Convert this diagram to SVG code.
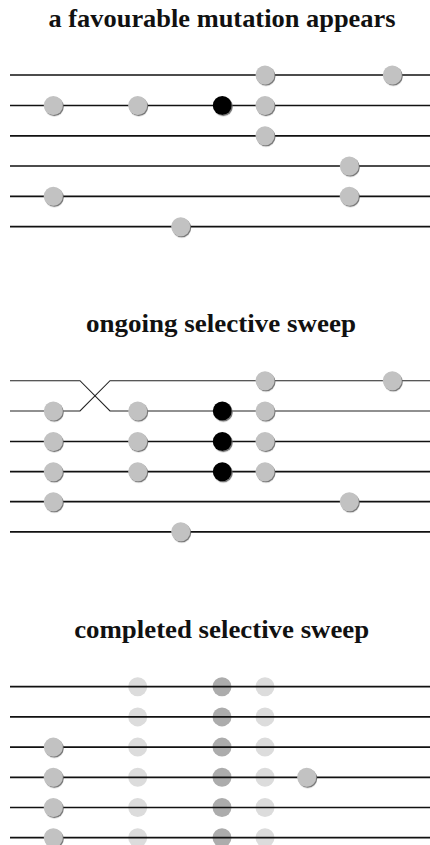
<svg xmlns="http://www.w3.org/2000/svg" width="430" height="845" viewBox="0 0 430 845">
<style>
.t{font-family:"Liberation Serif","Times New Roman",serif;font-weight:bold;font-size:26px;fill:#111;text-anchor:middle}
.ln{stroke:#111;stroke-width:1.7;fill:none}
.x{stroke:#222;stroke-width:1.1;fill:none}
.g{fill:#c2c2c2;filter:url(#sh)}
.b{fill:#000;filter:url(#sh)}
.fl{fill:#dcdcdc;filter:url(#bl)}
.fd{fill:#acacac;filter:url(#bl)}
</style>
<defs>
<filter id="sh" x="-30%" y="-30%" width="170%" height="170%">
<feDropShadow dx="1" dy="1.2" stdDeviation="0.6" flood-color="#6a6a6a" flood-opacity="0.9"/>
</filter>
<filter id="bl" x="-30%" y="-30%" width="160%" height="160%">
<feGaussianBlur stdDeviation="0.6"/>
</filter>
</defs>
<rect width="430" height="845" fill="#fff"/>
<g id="titles">
<text class="t" x="222" y="27" textLength="347" lengthAdjust="spacingAndGlyphs">a favourable mutation appears</text>
<text class="t" x="221" y="332" textLength="270" lengthAdjust="spacingAndGlyphs">ongoing selective sweep</text>
<text class="t" x="221.7" y="638" textLength="295" lengthAdjust="spacingAndGlyphs">completed selective sweep</text>
</g>
<g id="faded">
<g id="p3-faded-r1"><circle class="fl" cx="137.7" cy="686.7" r="9.5"/><circle class="fd" cx="222" cy="686.7" r="9.5"/><circle class="fl" cx="265" cy="686.7" r="9.5"/></g>
<g id="p3-faded-r2"><circle class="fl" cx="137.7" cy="716.9" r="9.5"/><circle class="fd" cx="222" cy="716.9" r="9.5"/><circle class="fl" cx="265" cy="716.9" r="9.5"/></g>
<g id="p3-faded-r3"><circle class="fl" cx="137.7" cy="747.1" r="9.5"/><circle class="fd" cx="222" cy="747.1" r="9.5"/><circle class="fl" cx="265" cy="747.1" r="9.5"/></g>
<g id="p3-faded-r4"><circle class="fl" cx="137.7" cy="777.3" r="9.5"/><circle class="fd" cx="222" cy="777.3" r="9.5"/><circle class="fl" cx="265" cy="777.3" r="9.5"/></g>
<g id="p3-faded-r5"><circle class="fl" cx="137.7" cy="807.5" r="9.5"/><circle class="fd" cx="222" cy="807.5" r="9.5"/><circle class="fl" cx="265" cy="807.5" r="9.5"/></g>
<g id="p3-faded-r6"><circle class="fl" cx="137.7" cy="837.7" r="9.5"/><circle class="fd" cx="222" cy="837.7" r="9.5"/><circle class="fl" cx="265" cy="837.7" r="9.5"/></g>
</g>
<g id="connectors">
<line class="ln" x1="10" y1="75" x2="430" y2="75"/>
<line class="ln" x1="10" y1="105.5" x2="430" y2="105.5"/>
<line class="ln" x1="10" y1="135.8" x2="430" y2="135.8"/>
<line class="ln" x1="10" y1="166" x2="430" y2="166"/>
<line class="ln" x1="10" y1="196.3" x2="430" y2="196.3"/>
<line class="ln" x1="10" y1="226.7" x2="430" y2="226.7"/>
<path class="x" d="M10 380.7H80L110 411H430"/>
<path class="x" d="M10 411H80L110 380.7H430"/>
<line class="ln" x1="10" y1="441.5" x2="430" y2="441.5"/>
<line class="ln" x1="10" y1="471.7" x2="430" y2="471.7"/>
<line class="ln" x1="10" y1="501.7" x2="430" y2="501.7"/>
<line class="ln" x1="10" y1="531.8" x2="430" y2="531.8"/>
<line class="ln" x1="10" y1="686.7" x2="430" y2="686.7"/>
<line class="ln" x1="10" y1="716.9" x2="430" y2="716.9"/>
<line class="ln" x1="10" y1="747.1" x2="430" y2="747.1"/>
<line class="ln" x1="10" y1="777.3" x2="430" y2="777.3"/>
<line class="ln" x1="10" y1="807.5" x2="430" y2="807.5"/>
<line class="ln" x1="10" y1="837.7" x2="430" y2="837.7"/>
</g>
<g id="p1-r1"><circle class="g" cx="265" cy="75" r="9.5"/><circle class="g" cx="392.3" cy="75" r="9.5"/></g>
<g id="p1-r2"><circle class="g" cx="53.3" cy="105.5" r="9.5"/><circle class="g" cx="137.7" cy="105.5" r="9.5"/><circle class="b" cx="222.3" cy="105.5" r="9.5"/><circle class="g" cx="265" cy="105.5" r="9.5"/></g>
<g id="p1-r3"><circle class="g" cx="265" cy="135.8" r="9.5"/></g>
<g id="p1-r4"><circle class="g" cx="349.3" cy="166" r="9.5"/></g>
<g id="p1-r5"><circle class="g" cx="53.3" cy="196.3" r="9.5"/><circle class="g" cx="349.3" cy="196.3" r="9.5"/></g>
<g id="p1-r6"><circle class="g" cx="180.7" cy="226.7" r="9.5"/></g>
<g id="p2-r1"><circle class="g" cx="265" cy="380.7" r="9.5"/><circle class="g" cx="392.3" cy="380.7" r="9.5"/></g>
<g id="p2-r2"><circle class="g" cx="53.3" cy="411" r="9.5"/><circle class="g" cx="137.7" cy="411" r="9.5"/><circle class="b" cx="222.3" cy="411" r="9.5"/><circle class="g" cx="265" cy="411" r="9.5"/></g>
<g id="p2-r3"><circle class="g" cx="53.3" cy="441.5" r="9.5"/><circle class="g" cx="137.7" cy="441.5" r="9.5"/><circle class="b" cx="222.3" cy="441.5" r="9.5"/><circle class="g" cx="265" cy="441.5" r="9.5"/></g>
<g id="p2-r4"><circle class="g" cx="53.3" cy="471.7" r="9.5"/><circle class="g" cx="137.7" cy="471.7" r="9.5"/><circle class="b" cx="222.3" cy="471.7" r="9.5"/><circle class="g" cx="265" cy="471.7" r="9.5"/></g>
<g id="p2-r5"><circle class="g" cx="53.3" cy="501.7" r="9.5"/><circle class="g" cx="349.3" cy="501.7" r="9.5"/></g>
<g id="p2-r6"><circle class="g" cx="180.7" cy="531.8" r="9.5"/></g>
<g id="p3-r3"><circle class="g" cx="53.3" cy="747.1" r="9.5"/></g>
<g id="p3-r4"><circle class="g" cx="53.3" cy="777.3" r="9.5"/><circle class="g" cx="306.7" cy="777.3" r="9.5"/></g>
<g id="p3-r5"><circle class="g" cx="53.3" cy="807.5" r="9.5"/></g>
<g id="p3-r6"><circle class="g" cx="53.3" cy="837.7" r="9.5"/></g>
</svg>
